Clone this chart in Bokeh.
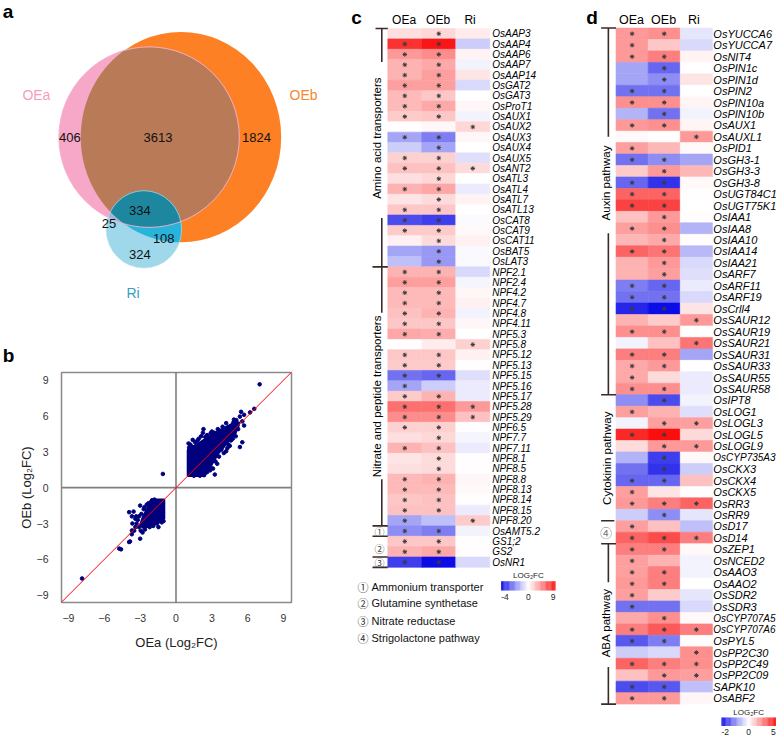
import numpy as np
import pandas as pd
from bokeh.plotting import figure
from bokeh.models import Range1d, ColumnDataSource, Span, Slope, FixedTicker
from bokeh.layouts import row, column
from bokeh.embed import file_html
from bokeh.resources import INLINE
from bokeh.core.properties import value
from bokeh.transform import linear_cmap

# ======================= DATA =======================
samples = ["OEa", "OEb", "Ri"]

# ---- a: Venn counts ----
venn_sets = ["OEa", "OEb", "Ri"]
venn_regions = ["OEa only", "OEa&OEb", "OEb only", "OEa&OEb&Ri", "OEa&Ri", "OEb&Ri", "Ri only"]
venn_counts = [406, 3613, 1824, 334, 25, 108, 324]

# ---- b: scatter (log2FC) ----
b_ticks = [-9, -6, -3, 0, 3, 6, 9]
# outlines of the saturated (over-plotted) point clouds
b_core_up_x = [0.98, 0.98, 1.5, 2.0, 2.8, 3.6, 4.4, 5.0, 5.3, 5.2, 4.9, 4.5, 4.0, 3.5, 3.1, 2.8, 2.5, 2.35]
b_core_up_y = [0.98, 3.15, 3.5, 3.8, 4.3, 4.8, 5.2, 5.5, 5.45, 5.0, 4.5, 4.0, 3.4, 2.8, 2.1, 1.6, 1.15, 0.98]
b_core_dn_x = [-0.98, -0.98, -1.3, -1.8, -2.3, -2.8, -3.0, -2.8, -2.5, -2.2, -1.9, -1.6]
b_core_dn_y = [-0.98, -2.6, -2.85, -3.1, -3.25, -3.35, -3.1, -2.5, -1.9, -1.4, -1.05, -0.98]
b_oea = [7.0, 6.55, 6.2, 5.7, 5.45, 5.35, 5.05, 5.55, 5.7, 5.55, 5.35, 4.75, 4.5, 4.2, 3.8, 3.4, 3.25,
         2.3, 2.25, 1.4, 2.1, 2.55, 2.85, 3.65, 4.5, 4.65, 5.1, 3.0, 2.6, 1.2, 1.8, 3.9, 4.2, 4.8, 3.3,
         3.6, 4.0, 2.9, 2.6, 3.1, 1.9, 3.2, 4.4, 4.9, 5.2, 4.0, 3.5, 2.7, 1.6, 1.3, 1.1, 2.9, 3.75, 4.6,
         5.0, 4.3, 2.35, 2.0, 1.5, 3.45, 4.85, 4.4, 1.05, 2.45, 3.1, 4.1,
         -1.1,
         -3.92, -3.0, -3.33, -3.69, -2.64, -2.45, -3.69, -3.92, -3.85, -3.0, -2.8, -4.75, -4.6, -7.86,
         -1.47, -2.22, -3.55, -3.4, -3.65, -3.5, -3.7, -2.95, -2.75, -2.5, -1.7, -1.45, -3.1, -3.2,
         -2.9, -2.7, -2.1, -3.3, -2.2, -1.9, -2.6, -1.2, -1.6, -2.3, -3.1, -2.0, -1.8, -1.05, -2.45, -3.4]
b_oeb = [8.65, 6.6, 6.3, 6.1, 6.35, 5.95, 5.65, 5.55, 5.2, 3.8, 3.4, 4.1, 3.5, 3.05, 3.2, 3.8, 1.1,
         4.9, 4.6, 4.0, 4.3, 1.9, 1.45, 4.3, 4.75, 4.3, 5.2, 4.7, 4.4, 3.6, 3.95, 5.1, 5.4, 5.45, 2.2,
         2.6, 2.9, 1.7, 1.3, 1.6, 4.1, 4.6, 3.6, 4.6, 4.9, 4.1, 4.9, 4.2, 3.8, 3.45, 3.35, 4.55, 3.55, 3.95,
         4.3, 3.3, 1.05, 1.0, 1.0, 2.0, 5.7, 5.05, 3.7, 4.25, 2.9, 3.8,
         1.15,
         -2.05, -1.5, -2.4, -2.4, -1.64, -1.42, -3.58, -4.55, -4.5, -4.27, -3.75, -5.1, -5.16, -7.6,
         -3.3, -2.9, -2.0, -2.6, -3.0, -3.6, -3.9, -3.6, -3.1, -2.85, -2.6, -2.7, -3.3, -2.7,
         -2.2, -1.8, -1.2, -3.0, -3.3, -3.2, -3.5, -2.9, -3.0, -1.3, -2.4, -1.05, -1.0, -2.8, -3.2, -3.3]

# ---- c: N transport genes (log2FC) ----
c_lo, c_hi = -4, 9
c_groups = ["Amino acid transporters", "Nitrate and peptide transporters"]
c_genes = ["OsAAP3", "OsAAP4", "OsAAP6", "OsAAP7", "OsAAP14", "OsGAT2", "OsGAT3", "OsProT1", "OsAUX1",
           "OsAUX2", "OsAUX3", "OsAUX4", "OsAUX5", "OsANT2", "OsATL3", "OsATL4", "OsATL7", "OsATL13",
           "OsCAT8", "OsCAT9", "OsCAT11", "OsBAT5", "OsLAT3",
           "NPF2.1", "NPF2.4", "NPF4.2", "NPF4.7", "NPF4.8", "NPF4.11", "NPF5.3", "NPF5.8", "NPF5.12",
           "NPF5.13", "NPF5.15", "NPF5.16", "NPF5.17", "NPF5.28", "NPF5.29", "NPF6.5", "NPF7.7",
           "NPF7.11", "NPF8.1", "NPF8.5", "NPF8.8", "NPF8.13", "NPF8.14", "NPF8.15", "NPF8.20",
           "OsAMT5.2", "GS1;2", "GS2", "OsNR1"]
c_oea = [1.1, 7.2, 3.6, 2.7, 2.7, 3.4, 2.5, 2.5, 1.8, 0.1, -1.4, -0.8, 1.6, 2.2, 1.1, 2.7, 0.9, 2.0, -2.8, 1.8, 0.5, -1.4, -1.0,
         2.7, 3.4, 2.5, 2.5, 2.2, 2.0, 3.1, 0.1, 2.0, 1.8, -2.2, -1.4, 1.8, 5.0, 4.0, 1.6, 1.1, 2.7, 0.9, 1.1, 2.5, 2.5, 2.0, 2.2, -1.4,
         -1.8, 2.0, 2.7, -3.0]
c_oeb = [1.4, 8.2, 4.0, 3.0, 3.4, 3.4, 2.0, 3.0, 2.0, 0.3, -2.0, -1.4, 1.6, 2.2, 1.4, 3.1, 1.3, 2.0, -3.0, 1.8, 1.3, -1.6, -1.6,
         2.7, 3.4, 2.5, 2.5, 2.7, 2.0, 2.9, 0.6, 2.0, 1.8, -2.4, -0.8, 2.7, 5.0, 4.0, 1.6, 1.4, 2.2, 1.3, 1.3, 2.7, 2.5, 2.2, 2.2, -1.0,
         -2.0, 2.0, 3.1, -3.8]
c_ri = [0.7, -0.8, 0.4, -0.2, 0.9, -0.6, 0.0, 0.3, -0.2, 1.4, 0.3, 0.0, -0.5, 1.3, 0.0, -0.3, 0.4, 0.0, -0.05, 0.2, 0.5, -0.1, -0.1,
        -0.6, -0.15, 0.3, 0.5, -0.2, 0.3, 0.0, 1.6, 0.5, 0.1, -0.5, -0.3, -0.3, 3.6, 2.2, 0.1, -0.15, -0.3, 0.05, 0.05, 0.3, 0.2, 0.1, -0.3, 1.8,
        -0.2, 0.1, 0.1, -0.6]
c_sig_oea = [0, 1, 1, 1, 1, 1, 1, 1, 1, 0, 1, 0, 1, 1, 0, 1, 0, 1, 1, 1, 0, 0, 0,
             1, 1, 1, 1, 1, 1, 1, 0, 1, 1, 1, 1, 1, 1, 1, 1, 0, 1, 0, 0, 1, 1, 1, 1, 1,
             1, 1, 1, 1]
c_sig_oeb = [1, 1, 1, 1, 1, 1, 1, 1, 1, 0, 1, 1, 1, 1, 1, 1, 1, 1, 1, 1, 1, 1, 1,
             1, 1, 1, 1, 1, 1, 1, 0, 1, 1, 1, 0, 1, 1, 1, 1, 1, 1, 1, 1, 1, 1, 1, 1, 0,
             1, 1, 1, 1]
c_sig_ri = [0, 0, 0, 0, 0, 0, 0, 0, 0, 1, 0, 0, 0, 1, 0, 0, 0, 0, 0, 0, 0, 0, 0,
            0, 0, 0, 0, 0, 0, 0, 1, 0, 0, 0, 0, 0, 1, 1, 0, 0, 0, 0, 0, 0, 0, 0, 0, 1,
            0, 0, 0, 0]
c_marks = ["\u2460", "\u2461", "\u2462", "\u2463"]
c_mark_names = ["Ammonium transporter", "Glutamine synthetase", "Nitrate reductase", "Strigolactone pathway"]

# ---- d: hormone genes (log2FC) ----
d_lo, d_hi = -2, 5
d_groups = ["Auxin pathway", "Cytokinin pathway", "ABA pathway"]
d_genes = ["OsYUCCA6", "OsYUCCA7", "OsNIT4", "OsPIN1c", "OsPIN1d", "OsPIN2", "OsPIN10a", "OsPIN10b",
           "OsAUX1", "OsAUXL1", "OsPID1", "OsGH3-1", "OsGH3-3", "OsGH3-8", "OsUGT84C1", "OsUGT75K1",
           "OsIAA1", "OsIAA8", "OsIAA10", "OsIAA14", "OsIAA21", "OsARF7", "OsARF11", "OsARF19",
           "OsCrll4", "OsSAUR12", "OsSAUR19", "OsSAUR21", "OsSAUR31", "OsSAUR33", "OsSAUR55", "OsSAUR58",
           "OsIPT8", "OsLOG1", "OsLOGL3", "OsLOGL5", "OsLOGL9", "OsCYP735A3", "OsCKX3", "OsCKX4",
           "OsCKX5", "OsRR3", "OsRR9",
           "OsD17", "OsD14",
           "OsZEP1", "OsNCED2", "OsAAO3", "OsAAO2", "OsSDR2", "OsSDR3", "OsCYP707A5", "OsCYP707A6",
           "OsPYL5", "OsPP2C30", "OsPP2C49", "OsPP2C09", "SAPK10", "OsABF2"]
d_oea = [2.0, 2.0, 2.0, -0.7, -0.7, -1.1, 2.2, -0.6, 2.0, 0.1, 1.9, -1.1, 1.0, -1.2, 3.0, 3.7,
         1.2, 1.9, 1.4, 3.0, 1.5, 1.5, -1.0, -1.1, -1.7, 1.5, 2.2, -0.1, 2.5, 1.7, 1.7, 2.2,
         -0.9, 1.9, -0.1, 4.2, 0.7, -0.6, -1.1, -1.2, 1.9, 2.0, -0.4,
         1.9, 3.0,
         2.5, 1.9, 1.9, 2.0, 1.9, -1.1, 1.7, 2.5, -1.3, -0.4, 3.0, 1.2, -1.4, 2.0]
d_oeb = [2.2, 1.1, 2.5, -1.2, -0.9, -1.1, 2.2, -1.1, 2.2, 0.0, 1.4, -0.9, 2.0, -1.6, 3.0, 3.7,
         2.0, 2.2, 1.7, 2.7, 2.0, 1.9, -1.2, -1.1, -1.9, 1.0, 2.2, 1.2, 2.5, 2.0, 0.7, 2.2,
         -1.4, 1.5, 1.9, 4.7, 2.0, -1.5, -1.6, -1.2, 0.5, 2.5, -0.9,
         1.2, 3.5,
         2.5, 1.5, 2.5, 2.5, 1.0, -1.1, 2.2, 3.2, -1.0, -0.3, 2.5, 2.0, -1.3, 2.0]
d_ri = [-0.2, -0.3, 0.25, 0.0, 0.5, 0.0, 0.2, -0.1, 0.2, 2.0, 0.1, -0.7, 1.4, 0.1, 0.05, 0.0,
        0.05, -0.6, 0.05, -0.55, -0.3, -0.25, -0.15, -0.3, 0.5, 2.0, 0.0, 2.7, -0.7, 0.0, -0.15, -0.15,
        -0.1, -0.25, 1.9, 0.75, 2.0, 0.1, -0.4, 1.2, 0.05, 3.0, -0.2,
        -0.5, 2.5,
        0.1, -0.1, -0.1, 0.0, -0.2, -0.3, 0.1, 2.5, 0.05, 2.2, 2.2, 1.9, -0.5, 0.15]
d_sig_oea = [1, 1, 1, 0, 0, 1, 1, 0, 1, 0, 1, 1, 0, 1, 1, 1, 0, 1, 0, 1, 0, 0, 1, 1, 1, 0, 1, 0, 1, 1, 1, 1,
             0, 1, 0, 1, 0, 0, 0, 1, 1, 1, 0,
             1, 1,
             1, 1, 1, 1, 1, 1, 0, 1, 1, 0, 1, 0, 1, 1]
d_sig_oeb = [1, 0, 1, 1, 1, 1, 1, 1, 1, 0, 0, 1, 1, 1, 1, 1, 1, 1, 1, 1, 1, 1, 1, 1, 1, 0, 1, 0, 1, 1, 0, 1,
             1, 0, 1, 1, 1, 1, 1, 1, 0, 1, 1,
             0, 1,
             1, 0, 1, 1, 0, 0, 1, 1, 1, 0, 1, 1, 1, 1]
d_sig_ri = [0, 0, 0, 0, 0, 0, 0, 0, 0, 1, 0, 0, 0, 0, 0, 0, 0, 0, 0, 0, 0, 0, 0, 0, 0, 1, 0, 1, 0, 0, 0, 0,
            0, 0, 1, 0, 1, 0, 0, 0, 0, 1, 0,
            0, 1,
            0, 0, 0, 0, 0, 0, 0, 1, 0, 1, 1, 1, 0, 0]

# ======================= STYLE / LAYOUT =======================
FONT = "Liberation Sans"
CJK = "Noto Sans CJK SC"
PAGE_W, PAGE_H = 776, 738
REF_W, REF_H = 778.0, 740.0
SX, SY = PAGE_W / REF_W, PAGE_H / REF_H
XA, XC, YA = 348, 583, 371
wA = int(round(XA * SX))
wC = int(round(XC * SX)) - wA
wD = PAGE_W - wA - wC
hA = int(round(YA * SY))
hB = PAGE_H - hA
BRK = "#3b2a27"


def diverging(n=255):
    blue = np.array([0, 0, 230.0]); red = np.array([250, 0, 0.0]); white = np.array([255, 255, 255.0])
    mid = (n - 1) / 2.0
    out = []
    for k in range(n):
        t = (k - mid) / mid
        c = white + (blue - white) * (-t) if t < 0 else white + (red - white) * t
        out.append("#%02x%02x%02x" % tuple(int(round(v)) for v in c))
    return out


PALETTE = diverging()


def blank(w, h, xr, yr):
    p = figure(width=w, height=h, x_range=Range1d(*xr), y_range=Range1d(*yr), title=None,
               output_backend="svg", toolbar_location=None, x_axis_location=None,
               y_axis_location=None, min_border=0, outline_line_color=None)
    for g in p.grid:
        g.visible = False
    p.background_fill_color = "white"
    p.border_fill_color = "white"
    p.frame_align = False
    return p


def txt(p, xs, ys, texts, size, color="black", align="left", baseline="middle",
        style="normal", font=FONT, angle=0.0):
    sz = size if isinstance(size, list) else value(size)
    p.text(x=list(xs), y=list(ys), text=list(texts), text_font=value(font), text_font_size=sz,
           text_color=color, text_align=align, text_baseline=baseline, text_font_style=style,
           angle=angle)


# ======================= a: Venn =======================
p_a = blank(wA, hA, (0, XA), (YA, 0))
ELL = {"OEa": (149.0, 137.0, 90.5, 90.5), "OEb": (181.0, 137.0, 100.5, 105.5),
       "Ri": (143.8, 229.5, 37.8, 38.8)}


def ell_boundary(e, n=1440):
    t = np.linspace(0, 2 * np.pi, n, endpoint=False)
    return e[0] + e[2] * np.cos(t), e[1] + e[3] * np.sin(t)


def inside(x, y, e):
    return ((x - e[0]) / e[2]) ** 2 + ((y - e[1]) / e[3]) ** 2 <= 1.000001


def intersection(*ells):
    xs, ys = [], []
    for i, e in enumerate(ells):
        bx, by = ell_boundary(e)
        m = np.ones_like(bx, dtype=bool)
        for j, f in enumerate(ells):
            if j != i:
                m &= inside(bx, by, f)
        xs.append(bx[m]); ys.append(by[m])
    xs = np.concatenate(xs); ys = np.concatenate(ys)
    o = np.argsort(np.arctan2(ys - ys.mean(), xs - xs.mean()))
    return list(xs[o]), list(ys[o])


def ellipse(p, e, fill, line=None, lw=1.0, alpha=1.0):
    p.ellipse(x=[e[0]], y=[e[1]], width=[2 * e[2]], height=[2 * e[3]], fill_color=fill,
              line_color=line, line_width=lw, line_alpha=alpha)


ellipse(p_a, ELL["OEb"], "#FD8024")
ellipse(p_a, ELL["OEa"], "#F7A7C7")
xs, ys = intersection(ELL["OEa"], ELL["OEb"]); p_a.patch(xs, ys, fill_color="#B97A57", line_color=None)
ellipse(p_a, ELL["Ri"], "#9ED8EA")
xs, ys = intersection(ELL["Ri"], ELL["OEb"]); p_a.patch(xs, ys, fill_color="#27B3DA", line_color=None)
xs, ys = intersection(ELL["Ri"], ELL["OEa"]); p_a.patch(xs, ys, fill_color="#9FB7D3", line_color=None)
xs, ys = intersection(ELL["Ri"], ELL["OEa"], ELL["OEb"]); p_a.patch(xs, ys, fill_color="#1E87A0", line_color=None)
ellipse(p_a, ELL["OEa"], None, "#F3B3CC", 1.0, 0.9)
ellipse(p_a, ELL["Ri"], None, "#B5E2F0", 0.8, 0.8)

txt(p_a, [36, 304, 133], [95, 95, 293.3], venn_sets, "14px",
    color=["#F59DC1", "#F7862E", "#3A9CC0"], align="center")
venn_pos_x = [69.5, 158, 256.7, 139.7, 108.8, 163.7, 139.7]
venn_pos_y = [137, 137, 137, 210.7, 223.3, 238.3, 254.3]
txt(p_a, venn_pos_x, venn_pos_y, [str(v) for v in venn_counts], "13px", color="#111111", align="center")
txt(p_a, [7.5, 8], [11.5, 356], ["a", "b"], "19px", style="bold", align="center")

# ======================= b: scatter =======================
frame_w = int(round(231 * SX))
frame_h = int(round(231 * SY))
bl, bt = int(round(61 * SX)), int(round((373 - YA) * SY))
p_b = figure(width=wA, height=hB, x_range=Range1d(-9.583, 9.667), y_range=Range1d(-9.61, 9.64),
             title=None, output_backend="svg", toolbar_location=None,
             min_border_left=bl, min_border_right=wA - bl - frame_w,
             min_border_top=bt, min_border_bottom=hB - bt - frame_h)
p_b.frame_align = False
for g in p_b.grid:
    g.visible = False
p_b.outline_line_color = "#8a8a8a"
p_b.outline_line_width = 1.5
for ax in (p_b.xaxis[0], p_b.yaxis[0]):
    ax.ticker = FixedTicker(ticks=b_ticks)
    ax.major_tick_line_color = None
    ax.minor_tick_line_color = None
    ax.axis_line_color = None
    ax.major_label_text_font = FONT
    ax.major_label_text_font_size = "10.5px"
    ax.major_label_text_color = "#333333"
    ax.axis_label_text_font = FONT
    ax.axis_label_text_font_size = "13px"
    ax.axis_label_text_font_style = "normal"
    ax.axis_label_text_color = "#222222"
p_b.xaxis.axis_label = "OEa (Log\u2082FC)"
p_b.yaxis.axis_label = "OEb (Log\u2082FC)"
p_b.xaxis.major_label_standoff = 5
p_b.xaxis.axis_label_standoff = 10
p_b.yaxis.major_label_standoff = 7
p_b.yaxis.axis_label_standoff = 0
p_b.add_layout(Span(location=0, dimension="height", line_color="#555555", line_width=1.2))
p_b.add_layout(Span(location=0, dimension="width", line_color="#7f7f7f", line_width=1.8))
p_b.patch(b_core_up_x, b_core_up_y, fill_color="#00007F", line_color="#00007F", line_width=2)
p_b.patch(b_core_dn_x, b_core_dn_y, fill_color="#00007F", line_color="#00007F", line_width=2)
p_b.scatter(b_oea, b_oeb, size=3.6, color="#00007F")
p_b.add_layout(Slope(gradient=1, y_intercept=0, line_color="red", line_width=1))


# ======================= heatmap helpers =======================
def heat_df(genes, vals, sigs, lo, hi):
    recs = []
    for si, (v, s) in enumerate(zip(vals, sigs)):
        for gi, g in enumerate(genes):
            val = v[gi]
            recs.append(dict(x=si + 0.5, y=gi + 0.5, gene=g, sample=samples[si], val=val,
                             norm=(val / abs(lo) if val < 0 else val / hi), sig=s[gi]))
    return pd.DataFrame(recs)


def draw_heat(p, df, genes, lab_x, lab_size, hdr_y, hdr_size):
    mapper = linear_cmap("norm", PALETTE, -1, 1)
    p.rect(x="x", y="y", width=1, height=1, source=ColumnDataSource(df), fill_color=mapper,
           line_color=mapper, line_width=0.6)
    sig = df[df.sig == 1]
    p.scatter(x=list(sig.x), y=list(sig.y), marker="asterisk", size=4.5, line_color="#3a3a3a",
              line_width=1)
    txt(p, [lab_x] * len(genes), [j + 0.5 for j in range(len(genes))], genes, lab_size,
        style="italic")
    txt(p, [0.48, 1.48, 2.42], [hdr_y] * 3, samples, hdr_size, align="center")


def draw_cbar(p, x0, x1, y0, y1, lo, hi, title_y, tick_y):
    n = 64
    t = np.linspace(-1, 1, n)
    w = (x1 - x0) / n
    src = ColumnDataSource(dict(x=list(x0 + (np.arange(n) + 0.5) * w), norm=list(t)))
    mapper = linear_cmap("norm", PALETTE, -1, 1)
    p.rect(x="x", y=(y0 + y1) / 2, width=w * 1.05, height=abs(y1 - y0), source=src,
           fill_color=mapper, line_color=None)
    txt(p, [(x0 + x1) / 2], [title_y], ["LOG\u2082FC"], "8px", color="#222222", align="center")
    txt(p, [x0], [tick_y], [str(lo)], "8.5px", color="#222222", align="left")
    txt(p, [(x0 + x1) / 2], [tick_y], ["0"], "8.5px", color="#222222", align="center")
    txt(p, [x1], [tick_y], [str(hi)], "8.5px", color="#222222", align="right")


# ======================= c =======================
C_X0, C_CW, C_Y0, C_RH = 388.3, 34.0, 28.1, 10.39


def cx(r):
    return (r - C_X0) / C_CW


def cy(r):
    return (r - C_Y0) / C_RH


p_c = blank(wC, PAGE_H, (cx(XA), cx(XC)), (cy(REF_H), cy(0)))
df_c = heat_df(c_genes, [c_oea, c_oeb, c_ri], [c_sig_oea, c_sig_oeb, c_sig_ri], c_lo, c_hi)
draw_heat(p_c, df_c, c_genes, cx(492.7), "10px", cy(20), "12px")
txt(p_c, [cx(351.7)], [cy(16.7)], ["c"], "19px", style="bold", baseline="alphabetic")
n_aa, n_npf = 23, 25
b_aa, b_npf = n_aa, n_aa + n_npf
sx0, sx1, sxm, sxs = cx(373), cx(388.3), cx(382.3), cx(376)
p_c.segment(x0=[sxs, sxm, sxm, sx0, sxm, sx0, sx0, sx0, sx0],
            y0=[0, 0, cy(218), b_aa, cy(480), b_npf, b_npf + 1, b_npf + 3, b_npf + 4],
            x1=[sx1, sxm, sxm, sx1, sxm, sx1, sx1, sx1, sx1],
            y1=[0, cy(61.7), cy(313), b_aa, b_npf, b_npf, b_npf + 1, b_npf + 3, b_npf + 4],
            line_color=BRK, line_width=1.6)
txt(p_c, [cx(377), cx(377)], [cy(138), cy(397)], c_groups, "11.5px", align="center",
    angle=np.pi / 2)
txt(p_c, [cx(380)] * 3, [b_npf + 0.5, b_npf + 2.2, b_npf + 3.5], c_marks[:3], "10px",
    color="#444444", align="center", font=CJK)
leg_y = [587.7, 604.3, 621.7, 639.0]
txt(p_c, [cx(363.5)] * 4, [cy(v) for v in leg_y], c_marks, "11px", color="#333333", align="center", font=CJK)
txt(p_c, [cx(372)] * 4, [cy(v) for v in leg_y], c_mark_names, "11px", color="#111111")
draw_cbar(p_c, cx(501.7), cx(556), cy(582.3), cy(591.7), c_lo, c_hi, cy(577), cy(598.5))

# ======================= d =======================
D_X0, D_CW, D_Y0, D_RH = 616.7, 32.3, 27.6, 11.49


def dx(r):
    return (r - D_X0) / D_CW


def dy(r):
    return (r - D_Y0) / D_RH


p_d = blank(wD, PAGE_H, (dx(XC), dx(REF_W)), (dy(REF_H), dy(0)))
df_d = heat_df(d_genes, [d_oea, d_oeb, d_ri], [d_sig_oea, d_sig_oeb, d_sig_ri], d_lo, d_hi)
d_lab_sizes = ["10px" if len(g) >= 10 else "11px" for g in d_genes]
draw_heat(p_d, df_d, d_genes, dx(714.5), d_lab_sizes, dy(20), "12.5px")
txt(p_d, [dx(586.7)], [dy(16.7)], ["d"], "19px", style="bold", baseline="alphabetic")
n_aux, n_ck, n_sl = 32, 11, 2
e_aux, e_ck, e_sl, e_all = n_aux, n_aux + n_ck, n_aux + n_ck + n_sl, len(d_genes)
tx0, tx1, txm = dx(601.7), dx(616.7), dx(609.0)
p_d.segment(x0=[tx0, txm, txm, tx0, tx0, tx0, txm, txm, tx0],
            y0=[0, 0, dy(233.3), e_aux, e_ck, e_sl, e_sl, dy(668.3), e_all],
            x1=[tx1, txm, txm, tx1, dx(615), tx1, txm, txm, tx1],
            y1=[0, dy(136.7), e_aux, e_aux, e_ck, e_sl, dy(583.3), e_all, e_all],
            line_color=BRK, line_width=1.6)
txt(p_d, [dx(607), dx(608), dx(607)], [dy(183), dy(459), dy(624)], d_groups, "11.5px",
    align="center", angle=np.pi / 2)
txt(p_d, [dx(606.7)], [(e_ck + e_sl) / 2], [c_marks[3]], "12px", color="#777777", align="center", font=CJK)
draw_cbar(p_d, dx(722.7), dx(777.3), dy(719), dy(727.5), d_lo, d_hi, dy(714), dy(733))

layout = row(column(p_a, p_b), p_c, p_d)
open("out.html", "w").write(file_html(layout, INLINE, title="Figure"))
